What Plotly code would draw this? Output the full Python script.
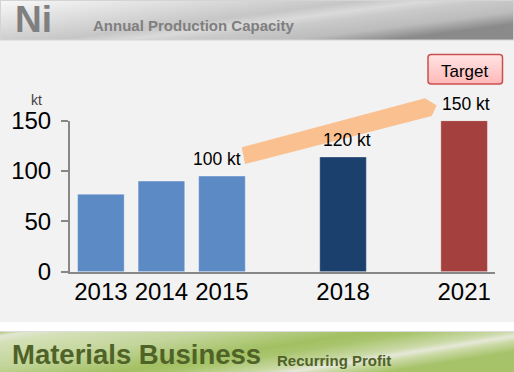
import base64
import plotly.graph_objects as go

# ---------------- data ----------------
years = ["2013", "2014", "2015", "2018", "2021"]
capacity_kt = [77, 90, 95, 114, 150]
bar_labels = ["", "", "100 kt", "120 kt", "150 kt"]
bar_colors = ["#5b8ac5", "#5b8ac5", "#5b8ac5", "#1c406d", "#a4403d"]
y_ticks = [0, 50, 100, 150]

W, H = 514, 372
FONT = "Liberation Sans, Arial, sans-serif"


def px(x):
    return x / W


def py(y):
    return 1 - y / H


# background artwork (panel, gradient header/footer, target box) as an SVG image
svg = f'''<svg xmlns="http://www.w3.org/2000/svg" width="{W}" height="{H}" viewBox="0 0 {W} {H}" preserveAspectRatio="none">
<defs>
<linearGradient id="hdr" x1="0" y1="0" x2="1" y2="0.6">
<stop offset="0" stop-color="#f8f8f8"/>
<stop offset="0.28" stop-color="#dedede"/>
<stop offset="0.52" stop-color="#c6c6c6"/>
<stop offset="0.62" stop-color="#dadada"/>
<stop offset="0.70" stop-color="#cacaca"/>
<stop offset="0.86" stop-color="#bcbcbc"/>
<stop offset="1" stop-color="#8a8a8a"/>
</linearGradient>
<linearGradient id="ftr" x1="0" y1="0" x2="1" y2="0.5">
<stop offset="0" stop-color="#a6c26a"/>
<stop offset="0.05" stop-color="#e2e7d2"/>
<stop offset="0.12" stop-color="#d4e0b6"/>
<stop offset="0.35" stop-color="#c2d59a"/>
<stop offset="0.58" stop-color="#a2c062"/>
<stop offset="0.66" stop-color="#a9c56e"/>
<stop offset="0.80" stop-color="#cbdaa8"/>
<stop offset="0.85" stop-color="#e6e8d8"/>
<stop offset="0.90" stop-color="#cbdaa6"/>
<stop offset="1" stop-color="#a6c36a"/>
</linearGradient>
<linearGradient id="tgt" x1="0" y1="0" x2="0" y2="1">
<stop offset="0" stop-color="#ffe4e4"/>
<stop offset="1" stop-color="#ffb8b8"/>
</linearGradient>
</defs>
<rect x="0" y="0" width="{W}" height="{H}" fill="#ffffff"/>
<rect x="0" y="40" width="{W}" height="282" fill="#f2f2f2"/>
<rect x="0.5" y="0.5" width="{W-1}" height="39.5" fill="url(#hdr)" stroke="#d4d4d4" stroke-width="1"/>
<rect x="0" y="331" width="{W}" height="41" fill="url(#ftr)"/>
<line x1="0" y1="331.5" x2="{W}" y2="331.5" stroke="#dcdcdc" stroke-width="1"/>
<rect x="428" y="54.5" width="74.5" height="29.5" rx="3" ry="3" fill="url(#tgt)" stroke="#c9504f" stroke-width="1.5"/>
</svg>'''
svg_uri = "data:image/svg+xml;base64," + base64.b64encode(svg.encode()).decode()

# spacer categories keep the gaps between 2015 / 2018 / 2021
category_order = ["2013", "2014", "2015", " ", "2018", "  ", "2021"]
label_xshift = {"2015": -5, "2018": 4, "2021": 2}

fig = go.Figure()
fig.add_trace(go.Bar(
    x=years, y=capacity_kt,
    marker=dict(color=bar_colors, line=dict(color="rgba(255,255,255,0.35)", width=1)),
    width=0.77, hoverinfo="skip", showlegend=False,
))

annotations = []
for yr, val, lab in zip(years, capacity_kt, bar_labels):
    if lab:
        annotations.append(dict(
            x=category_order.index(yr), y=val, xref="x", yref="y", text=lab,
            showarrow=False, xanchor="center", yanchor="middle", yshift=17,
            xshift=label_xshift.get(yr, 0),
            font=dict(family=FONT, size=17.5, color="#000000"),
        ))

texts = [
    ("Ni", 14, 19.5, 37, "#7f7f7f", "left", True),
    ("Annual Production Capacity", 92, 25.5, 15, "#7f7f7f", "left", True),
    ("kt", 36.5, 100, 14, "#404040", "center", False),
    ("Target", 465, 71.5, 17, "#000000", "center", False),
    ("Materials Business", 11, 354, 27.5, "#4f6228", "left", True),
    ("Recurring Profit", 276, 360, 15, "#4f6228", "left", True),
]
for t, x, y, s, c, xa, b in texts:
    annotations.append(dict(
        x=px(x), y=py(y), xref="paper", yref="paper",
        text=f"<b>{t}</b>" if b else t, showarrow=False,
        xanchor=xa, yanchor="middle", borderpad=0,
        font=dict(family=FONT, size=s, color=c),
    ))

arrow_pts = [(241.7, 147.3), (425, 98.3), (436.7, 105.5), (431.7, 116), (245, 164)]
arrow_path = "M " + " L ".join(f"{px(a):.5f},{py(b):.5f}" for a, b in arrow_pts) + " Z"

fig.update_layout(
    width=W, height=H,
    margin=dict(l=0, r=0, t=0, b=0, pad=0, autoexpand=False),
    paper_bgcolor="#ffffff",
    plot_bgcolor="rgba(0,0,0,0)",
    bargap=0.23,
    images=[dict(source=svg_uri, xref="paper", yref="paper", x=0, y=1,
                 sizex=1, sizey=1, xanchor="left", yanchor="top",
                 sizing="stretch", layer="below")],
    shapes=[dict(type="path", path=arrow_path, xref="paper", yref="paper",
                 fillcolor="#fac090", line=dict(width=0), layer="above")],
    annotations=annotations,
    xaxis=dict(
        domain=[px(70), px(495)],
        type="category", categoryorder="array", categoryarray=category_order,
        range=[-0.51, 6.51], automargin=False,
        tickmode="array", tickvals=years, ticktext=years,
        showline=True, linecolor="#878787", linewidth=2,
        ticks="", showgrid=False, zeroline=False,
        tickfont=dict(family=FONT, size=24, color="#000000"),
        ticklabelstandoff=-3,
    ),
    yaxis=dict(
        domain=[py(271.7), py(120.7)],
        range=[0, 150], automargin=False,
        tickmode="array", tickvals=y_ticks,
        showline=True, linecolor="#878787", linewidth=2,
        ticks="outside", ticklen=7, tickwidth=2, tickcolor="#878787",
        showgrid=False, zeroline=False,
        tickfont=dict(family=FONT, size=24, color="#000000"),
        ticklabelstandoff=5,
    ),
)

fig.write_html(
    "out.html",
    config={"displayModeBar": False},
    post_script="document.body.style.margin='0';document.body.style.overflow='hidden';",
)
